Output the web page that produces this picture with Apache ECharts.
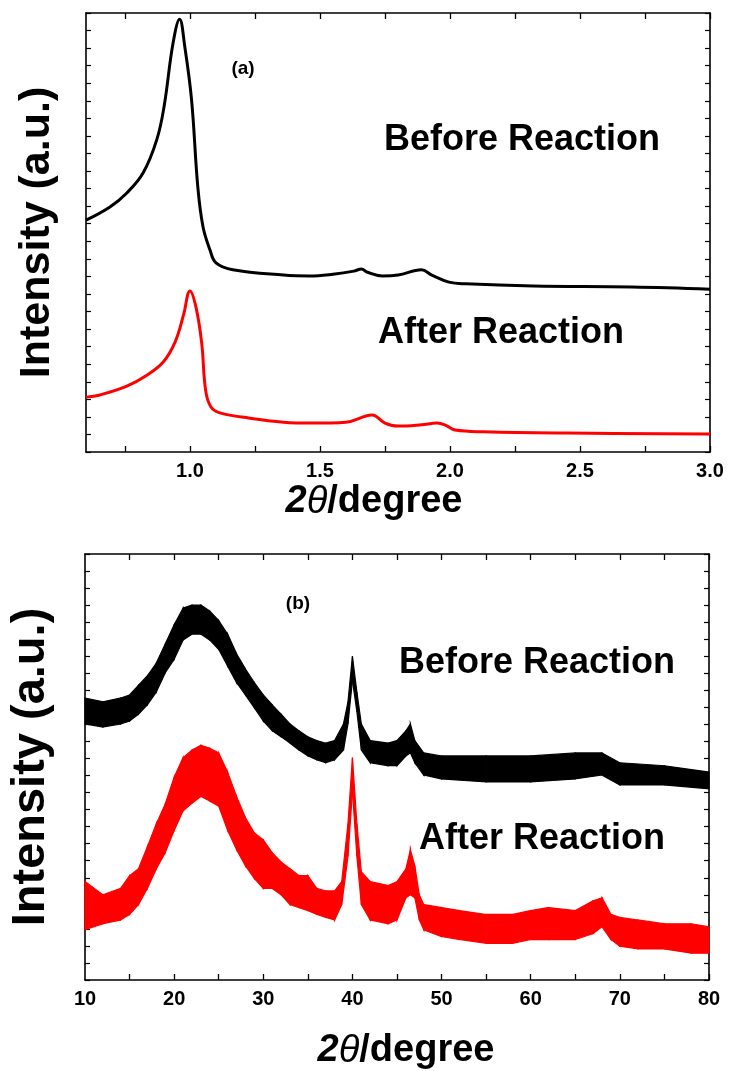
<!DOCTYPE html>
<html><head><meta charset="utf-8">
<script src="https://cdn.jsdelivr.net/npm/echarts@6/dist/echarts.min.js"></script>
<style>html,body{margin:0;padding:0;background:#fff}#c{width:732px;height:1071px}</style>
</head><body><div id="c"></div>
<script>
// ---------- Panel (a): low-angle XRD ----------
const aBeforeX = [0.6,0.692,0.757,0.82,0.872,0.90,0.935,0.96,0.98,1.006,1.03,1.05,1.077,1.10,1.165,1.36,1.46,1.55,1.63,1.66,1.68,1.74,1.80,1.89,1.93,1.996,2.06,2.32,2.70,3.0];
const aBeforeY = [52.8,55.8,59.0,63.6,71.1,78.6,93.2,98.6,92.3,80.2,60.4,51.3,46.0,43.1,41.5,40.3,40.1,40.5,41.2,41.7,41.0,40.1,40.3,41.5,40.3,38.7,38.3,37.8,37.6,37.1];
const aAfterX = [0.6,0.654,0.757,0.834,0.897,0.943,0.975,1.0,1.023,1.045,1.06,1.08,1.115,1.23,1.36,1.47,1.60,1.677,1.70,1.75,1.80,1.89,1.95,1.98,2.02,2.13,2.45,3.0];
const aAfterY = [12.5,13.0,15.0,17.5,20.5,25.1,31.2,36.7,33.0,24.8,14.1,10.3,8.9,7.7,6.8,6.6,6.8,8.2,8.4,6.6,5.9,6.2,6.6,6.2,5.0,4.6,4.3,4.1];
const aTicks = [0.75,1.0,1.25,1.5,1.75,2.0,2.25,2.5,2.75,3.0];
const aLabels = [1.0,1.5,2.0,2.5,3.0];

// ---------- Panel (b): wide-angle XRD (noisy band: lower / upper edge) ----------
const bBlackX  = [10,12,14,15,16,17,18,19,20,21,22,23,24,25,26,27,28,29,30,31,32,33,34,35,36,37,38,39,39.5,40,40.5,41,42,44,45,46,46.5,47,48,50,55,60,65,68,70,75,80];
const bBlackLo = [60.1,59.4,60.1,60.8,62.4,64.6,67.6,72.1,75.3,79.8,81.2,81.2,79.8,77.6,73.7,69.8,66.9,63.9,60.8,58.5,57.1,55.6,54.0,52.6,51.7,51.0,51.7,54.0,60.1,70.3,63.0,54.0,51.0,50.3,50.3,52.6,53.3,51.0,48.1,47.2,46.5,46.5,47.2,48.1,45.8,45.8,44.9];
const bBlackHi = [66.2,65.3,66.2,66.9,69.2,71.4,74.4,78.9,83.4,87.3,88.0,88.0,86.6,84.4,81.2,76.6,73.0,69.8,66.9,64.6,62.4,60.1,58.5,57.1,56.2,55.6,56.2,60.1,65.3,76.0,67.6,60.1,56.2,55.6,56.2,58.5,60.1,56.2,53.3,52.6,52.6,52.6,53.3,53.3,51.0,50.3,48.8];
const bRedX  = [10,12,14,15,16,17,18,19,20,21,22,23,24,25,26,27,28,29,30,31,32,33,34,35,36,37,38,38.8,39.5,40,40.5,41,42,44,45,46,46.5,47,47.5,48,50,52,55,58,60,62,65,67,68,69,70,72,75,78,80];
const bRedLo = [11.8,13.2,14.1,15.4,17.7,21.5,26.1,29.9,35.1,39.7,41.5,43.1,42.0,40.8,35.1,30.6,26.8,23.8,21.5,21.5,20.0,17.7,17.0,16.3,15.4,14.7,14.1,17.7,29.0,44.2,29.0,17.7,14.1,13.2,14.1,19.3,20.0,19.3,14.1,11.8,10.2,9.5,8.6,8.6,9.5,9.5,9.5,10.9,12.5,9.5,7.9,7.3,7.3,6.3,6.3];
const bRedHi = [23.1,20.0,21.5,24.5,26.1,31.3,36.7,41.3,47.6,52.2,54.0,55.1,54.4,53.3,48.8,43.1,38.1,34.5,32.9,29.9,27.7,26.1,24.5,24.5,21.5,20.9,20.9,23.1,36.7,52.2,36.7,25.4,23.1,22.2,23.1,26.1,30.6,26.8,20.0,17.7,17.0,16.3,15.4,15.4,16.3,17.0,16.3,18.6,19.3,15.4,14.7,14.1,13.2,13.2,12.5];
const bTicks = [15,20,25,30,35,40,45,50,55,60,65,70,75,80];
const bLabels = [10,20,30,40,50,60,70,80];

const FONT = '"Liberation Sans", Arial, Helvetica, sans-serif';
const zip = (xs, ys) => xs.map((x, i) => [x, ys[i]]);

function xAx(grid, pos, min, max, ticks, labels, fmt, name, nameGap, namePad) {
  return {
    type: 'value', gridIndex: grid, position: pos, min: min, max: max,
    axisLine: { show: true, onZero: false, lineStyle: { color: '#000', width: 1.6 } },
    axisTick: { show: true, inside: true, length: 6, customValues: ticks, lineStyle: { color: '#000', width: 1.3 } },
    axisLabel: labels ? { show: true, customValues: labels, margin: 9, color: '#000', fontSize: 20, fontWeight: 'bold', fontFamily: FONT, formatter: fmt } : { show: false },
    splitLine: { show: false },
    name: name || '', nameLocation: 'middle', nameGap: nameGap || 0,
    nameTextStyle: {
      padding: namePad || 0,
      rich: {
        i: { fontStyle: 'italic', fontWeight: 'bold', fontSize: 38, fontFamily: FONT, color: '#000' },
        t: { fontStyle: 'italic', fontWeight: 'normal', fontSize: 38, fontFamily: FONT, color: '#000' },
        n: { fontWeight: 'bold', fontSize: 38, fontFamily: FONT, color: '#000' }
      }
    }
  };
}
function yAx(grid, pos, name, nameGap, nameSize) {
  return {
    type: 'value', gridIndex: grid, position: pos, min: 0, max: 100, interval: 4,
    axisLine: { show: true, onZero: false, lineStyle: { color: '#000', width: 1.6 } },
    axisTick: { show: true, inside: true, length: 5, lineStyle: { color: '#000', width: 1.2 } },
    axisLabel: { show: false }, splitLine: { show: false },
    name: name || '', nameLocation: 'middle', nameGap: nameGap || 0, nameRotate: 90,
    nameTextStyle: { fontSize: nameSize || 40, fontWeight: 'bold', fontFamily: FONT, color: '#000' }
  };
}
function band(xs, lo, hi, color, xi, yi) {
  return {
    type: 'custom', xAxisIndex: xi, yAxisIndex: yi, silent: true,
    data: xs.map((x, i) => [x, lo[i], hi[i]]),
    encode: { x: 0, y: [1, 2] },
    renderItem: function (params, api) {
      const i = params.dataIndex;
      if (i >= xs.length - 1) return null;
      const pts = [
        api.coord([api.value(0), api.value(2)]),
        api.coord([xs[i + 1], hi[i + 1]]),
        api.coord([xs[i + 1], lo[i + 1]]),
        api.coord([api.value(0), api.value(1)])
      ];
      return { type: 'polygon', shape: { points: pts }, style: { fill: color, stroke: color, lineWidth: 1.2 } };
    }
  };
}
function label(text, x, y, size, align) {
  return { type: 'text', x: x, y: y, silent: true,
    style: { text: text, fill: '#000', fontSize: size, fontWeight: 'bold', fontFamily: FONT, align: align || 'left', verticalAlign: 'middle' } };
}

const chart = echarts.init(document.getElementById('c'), null, { renderer: 'canvas' });
chart.setOption({
  animation: false,
  backgroundColor: '#fff',
  grid: [
    { left: 86, right: 22, top: 13, height: 439 },
    { left: 83, right: 23, top: 554, height: 441 }
  ],
  xAxis: [
    xAx(0, 'bottom', 0.6, 3.0, aTicks, aLabels, v => v.toFixed(1), '{i|2}{t|θ}{n|/degree}', 31, [0, 48, 0, 0]),
    xAx(0, 'top', 0.6, 3.0, aTicks, null),
    xAx(1, 'bottom', 10, 80, bTicks, bLabels, v => String(v), '{i|2}{t|θ}{n|/degree}', 52, [0, 0, 0, 18]),
    xAx(1, 'top', 10, 80, bTicks, null)
  ],
  yAxis: [
    yAx(0, 'left', 'Intensity (a.u.)', 27, 43),
    yAx(0, 'right'),
    yAx(1, 'left', 'Intensity (a.u.)', 30, 47),
    yAx(1, 'right')
  ],
  graphic: [
    label('(a)', 243, 69, 19, 'center'),
    label('Before Reaction', 384, 140, 36),
    label('After Reaction', 378, 333, 36),
    label('(b)', 298, 604, 19, 'center'),
    label('Before Reaction', 399, 663, 36),
    label('After Reaction', 419, 839, 36)
  ],
  series: [
    { type: 'line', xAxisIndex: 0, yAxisIndex: 0, data: zip(aBeforeX, aBeforeY), showSymbol: false, smooth: 0.4, silent: true, lineStyle: { color: '#000', width: 3 } },
    { type: 'line', xAxisIndex: 0, yAxisIndex: 0, data: zip(aAfterX, aAfterY), showSymbol: false, smooth: 0.4, silent: true, lineStyle: { color: '#ff0000', width: 3 } },
    band(bBlackX, bBlackLo, bBlackHi, '#000', 2, 2),
    band(bRedX, bRedLo, bRedHi, '#ff0000', 2, 2)
  ]
});
</script></body></html>
